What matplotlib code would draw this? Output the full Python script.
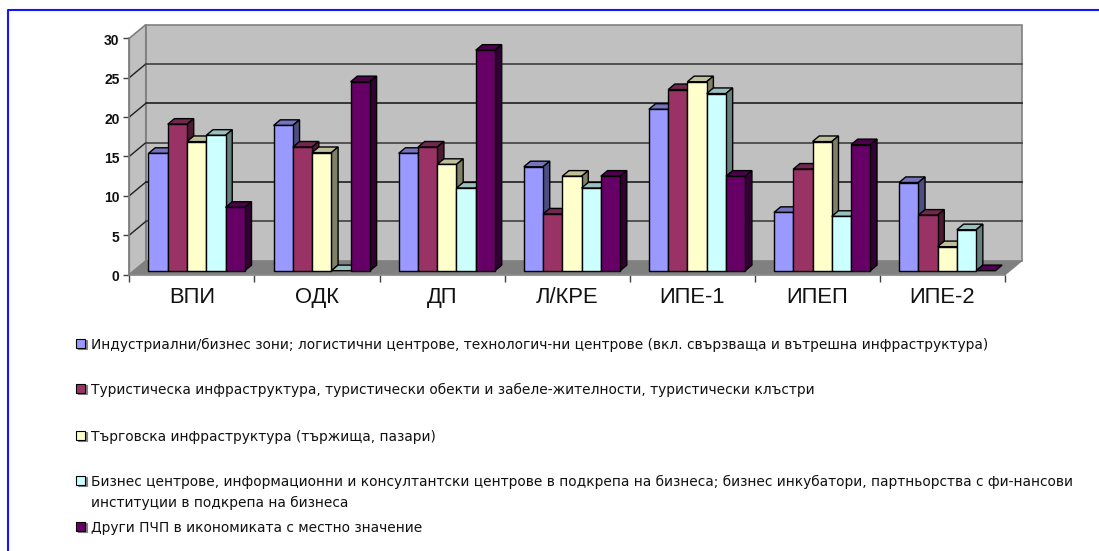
import matplotlib
matplotlib.use('Agg')
from matplotlib import pyplot as plt
from matplotlib.lines import Line2D
from matplotlib.patches import Polygon, Rectangle
from matplotlib.transforms import Affine2D, IdentityTransform
import numpy as np

W, H = 1099, 551

categories = ['ВПИ', 'ОДК', 'ДП', 'Л/КРЕ', 'ИПЕ-1', 'ИПЕП', 'ИПЕ-2']
industrial = [14.9, 18.45, 14.9, 13.2, 20.5, 7.4, 11.2]
tourism = [18.6, 15.7, 15.7, 7.2, 23.0, 12.9, 7.05]
trade = [16.4, 15.0, 13.5, 12.0, 24.0, 16.4, 3.05]
business = [17.2, 0.0, 10.5, 10.5, 22.5, 6.9, 5.2]
other = [8.05, 24.0, 28.0, 12.0, 12.0, 16.0, 0.0]
series = [industrial, tourism, trade, business, other]

colors = ['#9999FF', '#993366', '#FFFFCC', '#CCFFFF', '#660066']
tops = ['#7373BF', '#732650', '#BFBF99', '#99BFBF', '#4D004D']
sides = ['#4D4D80', '#4D1A33', '#808066', '#668080', '#330033']

legend_labels = [
    'Индустриални/бизнес зони; логистични центрове, технологич-ни центрове (вкл. свързваща и вътрешна инфраструктура)',
    'Туристическа инфраструктура, туристически обекти и забеле-жителности, туристически клъстри',
    'Търговска инфраструктура (тържища, пазари)',
    'Бизнес центрове, информационни и консултантски центрове в подкрепа на бизнеса; бизнес инкубатори, партньорства с фи-нансови\nинституции в подкрепа на бизнеса',
    'Други ПЧП в икономиката с местно значение',
]
legend_y = [345, 390, 437, 482, 528]

fig = plt.figure(figsize=(W / 100, H / 100), dpi=100)
fig.patch.set_facecolor('white')

# front plane of the 3d box, in pixels
x0, x1, y0, y1 = 129.3, 1005.0, 274.5, 38.3
ax = fig.add_axes([x0 / W, 1 - y0 / H, (x1 - x0) / W, (y0 - y1) / H])
ax.set_xlim(0, 7)
ax.set_ylim(0, 30)
ax.patch.set_alpha(0)
for s in ['top', 'right']:
    ax.spines[s].set_visible(False)
for s in ['left', 'bottom']:
    ax.spines[s].set_color('#808080')
    ax.spines[s].set_linewidth(1.2)

DX, DY = 16.5, 13.7  # box depth in pixels
ident = IdentityTransform()


def px(x, y):
    return ax.transData.transform((x, y))


def quad(pts, fc, ec='none', lw=0, z=1):
    ax.add_patch(Polygon(pts, closed=True, fc=fc, ec=ec, lw=lw, transform=ident,
                         zorder=z, clip_on=False, joinstyle='miter'))


# walls and floor
bl, br, tl = px(0, 0), px(7, 0), px(0, 30)
d = np.array([DX, DY])
quad([bl + d, br + d, px(7, 30) + d, tl + d], '#C0C0C0', '#808080', 1.2, 0.5)
quad([bl, bl + d, tl + d, tl], '#C0C0C0', '#808080', 1.2, 0.6)
quad([bl, br, br + d, bl + d], '#808080', z=0.7)
ax.plot(*zip(br, br + d), transform=ident, color='#808080', lw=1.2, clip_on=False, zorder=0.8)

# gridlines on side and back wall
for v in range(5, 30, 5):
    a = px(0, v)
    b = px(7, v)
    ln = '#404040' if v % 10 else '#202020'
    ax.plot(*zip(a, a + d), transform=ident, color='#202020', lw=1, clip_on=False, zorder=0.9)
    ax.plot(*zip(a + d, b + d), transform=ident, color=ln, lw=1.2, clip_on=False, zorder=0.9)

# bars, front faces shifted off the front plane
bw = 0.154
shift = np.array([4.8, 3.8])
bdx, bdy = 6.7, 5.6
z = 2
for i in range(len(categories)):
    for j, vals in enumerate(series):
        v = vals[i]
        left = i + 0.5 - 2.5 * bw + j * bw
        p1 = px(left + bw, 0) + shift
        p2 = px(left + bw, v) + shift
        p3 = px(left, v) + shift
        o = np.array([bdx, bdy])
        quad([p3, p2, p2 + o, p3 + o], tops[j], 'black', 1.0, z)
        if v > 0:
            quad([p1, p1 + o, p2 + o, p2], sides[j], 'black', 1.0, z)
            ax.bar(left + bw / 2, v, bw, color=colors[j], edgecolor='black', linewidth=1.0,
                   transform=ax.transData + Affine2D().translate(*shift),
                   clip_on=False, zorder=z + 0.1)
        z += 0.2

ax.set_xticks(np.arange(0, 8))
ax.set_xticklabels([])
ax.set_xticks(np.arange(7) + 0.5, minor=True)
ax.set_xticklabels(categories, minor=True, family='Liberation Sans', fontsize=15.8, color='#111111')
ax.tick_params(axis='x', which='major', length=5, width=1, color='#404040')
ax.tick_params(axis='x', which='minor', length=0, pad=9)
ax.set_yticks(range(0, 31, 5))
ax.set_yticklabels(range(0, 31, 5), family='Liberation Sans', fontsize=10, fontweight='bold', color='#111111')
ax.tick_params(axis='y', length=4, width=1, color='#404040', pad=3)
for t in ax.get_yticklabels():
    t.set_transform(t.get_transform() + Affine2D().translate(0, -1))

# legend, placed by hand because the rows are unevenly spaced
for c, label, y in zip(colors, legend_labels, legend_y):
    fig.add_artist(Rectangle((77.5 / W, 1 - (y + 3.5) / H), 9 / W, 9 / H, fc='#808080', ec='#808080',
                             lw=0.8, transform=fig.transFigure))
    fig.add_artist(Rectangle((76 / W, 1 - (y + 2.5) / H), 9 / W, 9 / H, fc=c, ec='black',
                             lw=0.8, transform=fig.transFigure))
    lines = label.split('\n')
    for k, line in enumerate(lines):
        yy = y + k * 21 if len(lines) > 1 else y
        fig.text(91 / W, 1 - yy / H, line, family='DejaVu Sans', fontsize=9.95, va='center', color='#111111')

# blue frame, only top and left are in the picture
frame_x = [7.5 / W, 7.5 / W, 1]
frame_y = [0, 1 - 10 / H, 1 - 10 / H]
fig.add_artist(Line2D(frame_x, frame_y, color='#1414FF', lw=1.5, transform=fig.transFigure))

fig.savefig('out.png', dpi=100)
